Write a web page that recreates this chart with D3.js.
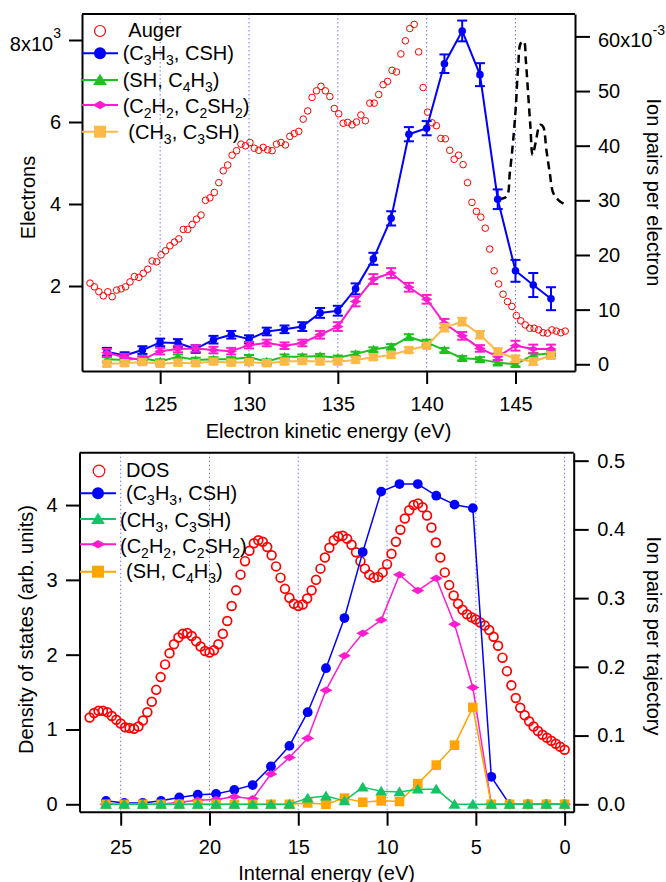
<!DOCTYPE html>
<html><head><meta charset="utf-8">
<script src="https://cdn.jsdelivr.net/npm/d3@7"></script>
<style>body{margin:0;background:#fff}</style>
</head><body>
<svg id="chart" width="666" height="882" xmlns="http://www.w3.org/2000/svg"></svg>
<script>
// ================= DATA =================
// --- Top panel: Auger spectrum (electrons, x10^3), regular energy grid ---
const augerEnergyStart = 121.05, augerEnergyStep = 0.25;
const augerElectrons = [2.07,1.98,1.86,1.76,1.86,1.74,1.90,1.93,1.98,2.10,
 2.23,2.21,2.31,2.41,2.61,2.59,2.76,2.86,2.98,3.07,
 3.15,3.38,3.38,3.50,3.63,3.73,4.09,4.15,4.28,4.52,
 4.81,4.95,5.19,5.30,5.46,5.42,5.50,5.36,5.31,5.38,
 5.32,5.30,5.46,5.50,5.44,5.65,5.72,5.77,6.07,6.27,
 6.60,6.76,6.87,6.76,6.62,6.33,6.20,5.97,5.99,5.93,
 6.00,6.17,6.03,6.46,6.46,6.67,6.91,6.99,7.26,7.22,
 7.66,7.98,8.28,8.38,7.71,6.84,6.24,5.98,5.91,5.60,
 5.59,5.31,5.09,5.19,4.96,4.52,4.04,3.82,3.68,3.41,
 2.90,2.37,2.05,1.80,1.62,1.50,1.28,1.15,1.05,0.97,
 0.97,0.93,0.86,0.85,0.93,0.90,0.86,0.90];

// --- Top panel: ion pairs per electron (x10^-3) ---
const topEnergy = [122,123,124,125,126,127,128,129,130,131,132,133,134,135,136,137,138,139,140,141,142,143,144,145,146,147];
const topC3H3 = [2.3,1.6,2.6,4.0,3.9,2.8,4.5,5.4,4.6,6.0,6.4,6.9,9.4,9.8,13.8,19.3,26.7,42.1,43.2,55.0,61.0,53.0,30.2,17.1,14.5,12.0];
const topC3H3Err = [0.7,0.6,0.7,0.7,0.7,0.7,0.7,0.7,0.7,0.7,0.7,0.8,0.9,0.9,1.0,1.1,1.3,1.3,1.3,1.7,1.9,2.1,1.8,2.0,2.2,2.1];
const topSH = [0.9,0.8,1.1,0.5,1.4,0.8,0.9,0.9,1.3,0.5,1.4,1.4,1.5,1.2,1.9,2.7,3.2,5.0,4.0,2.6,1.1,0.9,0.3,0.0,1.7,2.0];
const topSHErr = [0.4,0.4,0.4,0.4,0.4,0.4,0.4,0.4,0.4,0.4,0.4,0.4,0.4,0.4,0.4,0.4,0.5,0.5,0.5,0.4,0.4,0.4,0.4,0.4,0.4,0.4];
const topC2H2 = [2.1,1.3,0.8,2.4,2.8,2.9,2.6,2.4,3.5,3.9,3.4,3.9,5.4,6.9,11.5,15.6,16.7,14.1,11.9,7.5,5.2,2.9,1.4,3.4,2.8,2.8];
const topC2H2Err = [0.7,0.6,0.6,0.6,0.6,0.6,0.6,0.6,0.6,0.6,0.6,0.6,0.7,0.8,0.9,0.9,0.9,0.8,0.8,0.8,0.7,0.6,0.6,0.9,0.8,0.8];
const topCH3 = [0.1,0.2,0.4,0.1,0.3,0.2,0.5,0.3,0.4,0.2,0.5,0.6,0.5,0.5,0.8,1.3,1.7,2.6,3.4,6.7,7.8,5.4,2.3,1.0,0.5,1.6];
const topCH3Err = [0.5,0.5,0.5,0.5,0.5,0.5,0.5,0.5,0.5,0.5,0.5,0.5,0.5,0.5,0.5,0.5,0.5,0.5,0.5,0.7,0.7,0.7,0.6,0.6,0.6,0.6];
// dashed black curve (x10^-3)
const dashEnergy = [144.05,144.5,144.68,144.87,145.02,145.15,145.3,145.47,145.58,145.71,145.84,145.96,146.13,146.38,146.55,146.74,146.93,147.12,147.4,147.78,147.96];
const dashValue  = [30.2,30.7,35.0,41.0,47.2,54.5,58.8,59.1,55.7,49.6,43.5,38.3,40.5,43.8,43.5,39.2,35.0,31.4,30.1,29.3,29.3];

const topLegendLabels = ["Auger","(C_3H_3, CSH)","(SH, C_4H_3)","(C_2H_2, C_2SH_2)","(CH_3, C_3SH)"];
const topXTicks = [125,130,135,140,145];
const topLeftTicks = [2,4,6,8];
const topRightTicks = [0,10,20,30,40,50,60];

// --- Bottom panel: DOS (arb. units), regular grid from 0 eV ---
const dosEnergyStart = 0, dosEnergyStep = 0.25;
const dosValues = [0.73,0.77,0.81,0.85,0.89,0.93,0.98,1.04,1.11,1.19,
 1.29,1.42,1.59,1.78,1.96,2.12,2.24,2.33,2.39,2.43,
 2.47,2.50,2.54,2.60,2.68,2.79,2.93,3.10,3.30,3.50,
 3.70,3.86,3.97,4.02,4.00,3.93,3.82,3.67,3.51,3.35,
 3.21,3.10,3.04,3.03,3.07,3.15,3.25,3.37,3.47,3.55,
 3.59,3.58,3.53,3.43,3.30,3.15,3.00,2.86,2.75,2.67,
 2.65,2.68,2.76,2.88,3.03,3.18,3.33,3.44,3.51,3.53,
 3.49,3.39,3.25,3.07,2.86,2.65,2.45,2.28,2.14,2.06,
 2.03,2.05,2.11,2.18,2.25,2.29,2.28,2.23,2.14,2.02,
 1.87,1.70,1.53,1.37,1.23,1.12,1.04,1.01,1.02,1.03,
 1.08,1.13,1.18,1.23,1.25,1.25,1.22,1.16];

// --- Bottom panel: ion pairs per trajectory ---
const botEnergy = [0,1.03,2.07,3.1,4.13,5.17,6.2,7.23,8.27,9.3,10.33,11.37,12.4,13.44,14.47,15.5,16.54,17.57,18.6,19.63,20.66,21.7,22.73,23.76,24.8,25.83];
const botC3H3 = [0,0,0,0,0.040,0.431,0.436,0.449,0.466,0.466,0.455,0.367,0.271,0.198,0.134,0.085,0.055,0.028,0.021,0.015,0.014,0.010,0.005,0.002,0.002,0.005];
const botCH3  = [0,0,0,0,0,0,0,0.022,0.022,0.018,0.019,0.025,0.005,0.012,0.009,0,0,0,0,0,0,0,0,0,0,0];
const botC2H2 = [0,0,0,0,0,0.170,0.262,0.329,0.311,0.334,0.268,0.249,0.216,0.166,0.096,0.068,0.044,0.008,0.011,0.007,0.006,0.003,0,0,0,0];
const botSH   = [0,0,0,0,0,0.141,0.086,0.057,0.030,0.004,0.005,0.003,0.009,0,0.002,0,0,0,0,0,0,0,0,0,0,0];

const botLegendLabels = ["DOS","(C_3H_3, CSH)","(CH_3, C_3SH)","(C_2H_2, C_2SH_2)","(SH, C_4H_3)"];
const botXTicks = [25,20,15,10,5,0];
const botLeftTicks = [0,1,2,3,4];
const botRightTicks = [0,0.1,0.2,0.3,0.4,0.5];

// ================= DRAWING =================
const FONT = '"Liberation Sans", Arial, Helvetica, sans-serif';
const RED = '#ff0000', BLUE = '#0000ff', MAG = '#ff1ccf';
const GREEN_T = '#1fbf1f', ORANGE_T = '#fbb948';
const GREEN_B = '#14c464', ORANGE_B = '#ffa500';
const GRID = '#7272ff';

const svg = d3.select('#chart').attr('font-family', FONT);
svg.append('rect').attr('width',666).attr('height',882).attr('fill','#fff');

function markerPath(type, s) {
  if (type === 'circle') return d3.symbol(d3.symbolCircle, Math.PI*s*s)();
  if (type === 'triangle') return `M0,${-s*1.05}L${s*1.15},${s*0.85}L${-s*1.15},${s*0.85}Z`;
  if (type === 'square') return `M${-s},${-s}H${s}V${s}H${-s}Z`;
  if (type === 'diamond') return `M${-s*1.25},0L0,${-s*0.72}L${s*1.25},0L0,${s*0.72}Z`;
}

function richText(sel, str, subSize) {
  const parts = str.split(/(_\d)/);
  let inSub = false;
  parts.forEach(p => {
    if (!p) return;
    if (p[0] === '_') {
      sel.append('tspan').attr('dy', inSub ? 0 : 5).attr('font-size', subSize).text(p.slice(1));
      inSub = true;
    } else {
      const t = sel.append('tspan').text(p);
      if (inSub) { t.attr('dy', -5); inSub = false; }
    }
  });
}

function styleAxis(g, fs) {
  g.attr('font-family', FONT).attr('font-size', fs);
  g.selectAll('line,path').attr('stroke', '#000').attr('stroke-width', 2);
  g.selectAll('text').attr('fill', '#000');
}

function drawSeries(g, xs, ys, xScale, yScale, color, type, size, lw, errs) {
  const pts = xs.map((x,i) => [xScale(x), yScale(ys[i]), i]);
  g.append('path').attr('d', d3.line()(pts.map(p=>[p[0],p[1]])))
    .attr('fill','none').attr('stroke',color).attr('stroke-width',lw).attr('stroke-linejoin','round');
  if (errs) {
    const eg = g.append('g').attr('stroke', color).attr('stroke-width', 2);
    pts.forEach(p => {
      const v = ys[p[2]], e = errs[p[2]];
      const y1 = yScale(v - e), y2 = yScale(v + e);
      eg.append('line').attr('x1',p[0]).attr('x2',p[0]).attr('y1',y1).attr('y2',y2);
      eg.append('line').attr('x1',p[0]-5).attr('x2',p[0]+5).attr('y1',y1).attr('y2',y1);
      eg.append('line').attr('x1',p[0]-5).attr('x2',p[0]+5).attr('y1',y2).attr('y2',y2);
    });
  }
  g.append('g').selectAll('path').data(pts).join('path')
    .attr('transform', p => `translate(${p[0]},${p[1]})`)
    .attr('d', markerPath(type, size)).attr('fill', color).attr('stroke','none');
}

// ---------- TOP PANEL ----------
(function(){
  const F = {l:82, r:575, t:14, b:371};
  const x = d3.scaleLinear([120.6, 148.35], [F.l, F.r]);
  const yL = d3.scaleLinear([-0.073, 8.634], [F.b, F.t]);
  const yR = d3.scaleLinear([-1.23, 64.1], [F.b, F.t]);
  const g = svg.append('g');

  g.append('g').selectAll('line').data(topXTicks).join('line')
    .attr('x1', d=>x(d)).attr('x2', d=>x(d)).attr('y1', F.t).attr('y2', F.b)
    .attr('stroke', GRID).attr('stroke-width', 1).attr('stroke-dasharray', '1.5,2.5');

  const augerE = augerElectrons.map((_,i) => augerEnergyStart + i*augerEnergyStep);
  g.append('g').selectAll('circle').data(augerElectrons).join('circle')
    .attr('cx', (d,i)=>x(augerE[i])).attr('cy', d=>yL(d)).attr('r', 3.3)
    .attr('fill','none').attr('stroke', RED).attr('stroke-width', 1);

  g.append('path')
    .attr('d', d3.line().curve(d3.curveCatmullRom)(dashEnergy.map((e,i)=>[x(e), yR(dashValue[i])])))
    .attr('fill','none').attr('stroke','#000').attr('stroke-width',2.5).attr('stroke-dasharray','8,5');

  drawSeries(g, topEnergy, topC3H3, x, yR, BLUE, 'circle', 3.8, 2, topC3H3Err);
  drawSeries(g, topEnergy, topSH, x, yR, GREEN_T, 'triangle', 4.5, 2, topSHErr);
  drawSeries(g, topEnergy, topC2H2, x, yR, MAG, 'diamond', 4.6, 2, topC2H2Err);
  drawSeries(g, topEnergy, topCH3, x, yR, ORANGE_T, 'square', 4.2, 2, topCH3Err);

  g.append('line').attr('x1',F.l).attr('x2',F.r).attr('y1',F.t).attr('y2',F.t).attr('stroke','#000').attr('stroke-width',2);

  const ax = g.append('g').attr('transform',`translate(0,${F.b})`)
    .call(d3.axisBottom(x).tickValues(topXTicks).tickFormat(d3.format('d')).tickSize(13).tickPadding(12.5).tickSizeOuter(0));
  styleAxis(ax, 20);
  const al = g.append('g').attr('transform',`translate(${F.l},0)`)
    .call(d3.axisLeft(yL).tickValues(topLeftTicks).tickFormat(d3.format('d')).tickSize(13).tickPadding(8).tickSizeOuter(0));
  styleAxis(al, 20);
  al.selectAll('.tick text').each(function(d){
    if (d === 8) {
      const t = d3.select(this).text('8x10').attr('dy','0.52em');
      t.append('tspan').attr('dy', -13).attr('font-size', 14).text('3');
    }
  });
  const ar = g.append('g').attr('transform',`translate(${F.r},0)`)
    .call(d3.axisRight(yR).tickValues(topRightTicks).tickFormat(d3.format('d')).tickSize(15).tickPadding(8).tickSizeOuter(0));
  styleAxis(ar, 20);
  ar.selectAll('.tick text').each(function(d){
    if (d === 60) {
      const t = d3.select(this).text('60x10').attr('dy','0.5em');
      t.append('tspan').attr('dy', -12).attr('font-size', 14).text('-3');
    }
  });

  g.append('text').attr('x', (F.l+F.r)/2).attr('y', 438).attr('text-anchor','middle').attr('font-size',20).text('Electron kinetic energy (eV)');
  g.append('text').attr('transform','translate(34.5,197.5) rotate(-90)').attr('text-anchor','middle').attr('font-size',20).text('Electrons');
  g.append('text').attr('transform','translate(647,192.5) rotate(90)').attr('text-anchor','middle').attr('font-size',20).text('Ion pairs per electron');

  const rows = [
    {c:RED, t:'open', my:31, base:37.3, tx:128.3},
    {c:BLUE, t:'circle', my:53.3, base:60, tx:122.7},
    {c:GREEN_T, t:'triangle', my:80, base:86.7, tx:122.7},
    {c:MAG, t:'diamond', my:105, base:112.7, tx:122.7},
    {c:ORANGE_T, t:'square', my:131.7, base:139.3, tx:128.3}
  ];
  const lg = g.append('g');
  rows.forEach((r,i) => {
    if (r.t === 'open') {
      lg.append('circle').attr('cx',100).attr('cy',r.my).attr('r',5.5).attr('fill','none').attr('stroke',r.c).attr('stroke-width',1.2);
    } else {
      lg.append('line').attr('x1',82).attr('x2',118).attr('y1',r.my).attr('y2',r.my).attr('stroke',r.c).attr('stroke-width',2);
      lg.append('path').attr('transform',`translate(100,${r.my})`).attr('d', markerPath(r.t, 6)).attr('fill', r.c);
    }
    const t = lg.append('text').attr('x', r.tx).attr('y', r.base).attr('font-size',20);
    richText(t, topLegendLabels[i], 14);
  });
})();

// ---------- BOTTOM PANEL ----------
(function(){
  const F = {l:79.5, r:573.7, t:452.7, b:811.7};
  const x = d3.scaleLinear([27.32, -0.51], [F.l, F.r]);
  const yL = d3.scaleLinear([-0.099, 4.70], [F.b, F.t]);
  const yR = d3.scaleLinear([-0.01077, 0.5116], [F.b, F.t]);
  const g = svg.append('g');

  g.append('g').selectAll('line').data(botXTicks).join('line')
    .attr('x1', d=>x(d)).attr('x2', d=>x(d)).attr('y1', F.t).attr('y2', F.b)
    .attr('stroke', GRID).attr('stroke-width', 1).attr('stroke-dasharray', '1.5,2.5');

  const dosE = dosValues.map((_,i) => dosEnergyStart + i*dosEnergyStep);
  g.append('g').selectAll('circle').data(dosValues).join('circle')
    .attr('cx', (d,i)=>x(dosE[i])).attr('cy', d=>yL(d)).attr('r', 4.4)
    .attr('fill','none').attr('stroke', RED).attr('stroke-width', 1.7);

  drawSeries(g, botEnergy, botC3H3, x, yR, BLUE, 'circle', 4.9, 1.5, null);
  drawSeries(g, botEnergy, botC2H2, x, yR, MAG, 'diamond', 5.2, 1.5, null);
  drawSeries(g, botEnergy, botSH, x, yR, ORANGE_B, 'square', 4.8, 1.5, null);
  drawSeries(g, botEnergy, botCH3, x, yR, GREEN_B, 'triangle', 5.2, 1.5, null);

  g.append('line').attr('x1',F.l).attr('x2',F.r).attr('y1',F.t).attr('y2',F.t).attr('stroke','#000').attr('stroke-width',2);

  const ax = g.append('g').attr('transform',`translate(0,${F.b})`)
    .call(d3.axisBottom(x).tickValues(botXTicks).tickFormat(d3.format('d')).tickSize(14).tickPadding(14).tickSizeOuter(0));
  styleAxis(ax, 20);
  const al = g.append('g').attr('transform',`translate(${F.l},0)`)
    .call(d3.axisLeft(yL).tickValues(botLeftTicks).tickFormat(d3.format('d')).tickSize(13.5).tickPadding(8.5).tickSizeOuter(0));
  styleAxis(al, 20);
  const ar = g.append('g').attr('transform',`translate(${F.r},0)`)
    .call(d3.axisRight(yR).tickValues(botRightTicks).tickFormat(d3.format('.1f')).tickSize(15).tickPadding(8.5).tickSizeOuter(0));
  styleAxis(ar, 20);

  g.append('text').attr('x', (F.l+F.r)/2).attr('y', 880).attr('text-anchor','middle').attr('font-size',20).text('Internal energy (eV)');
  g.append('text').attr('transform','translate(32.5,629.5) rotate(-90)').attr('text-anchor','middle').attr('font-size',20).text('Density of states (arb. units)');
  g.append('text').attr('transform','translate(647,636) rotate(90)').attr('text-anchor','middle').attr('font-size',20).text('Ion pairs per trajectory');

  const rows = [
    {c:RED, t:'open', my:471, base:476.7, tx:126},
    {c:BLUE, t:'circle', my:493.3, base:500, tx:126},
    {c:GREEN_B, t:'triangle', my:519, base:527, tx:120},
    {c:MAG, t:'diamond', my:544.3, base:553, tx:120},
    {c:ORANGE_B, t:'square', my:571.7, base:578.3, tx:126}
  ];
  const lg = g.append('g');
  rows.forEach((r,i) => {
    if (r.t === 'open') {
      lg.append('circle').attr('cx',99).attr('cy',r.my).attr('r',5.8).attr('fill','none').attr('stroke',r.c).attr('stroke-width',1.2);
    } else {
      lg.append('line').attr('x1',80).attr('x2',116).attr('y1',r.my).attr('y2',r.my).attr('stroke',r.c).attr('stroke-width',2);
      lg.append('path').attr('transform',`translate(98,${r.my})`).attr('d', markerPath(r.t, 6)).attr('fill', r.c);
    }
    const t = lg.append('text').attr('x', r.tx).attr('y', r.base).attr('font-size',20);
    richText(t, botLegendLabels[i], 14);
  });
})();
</script>
</body></html>
